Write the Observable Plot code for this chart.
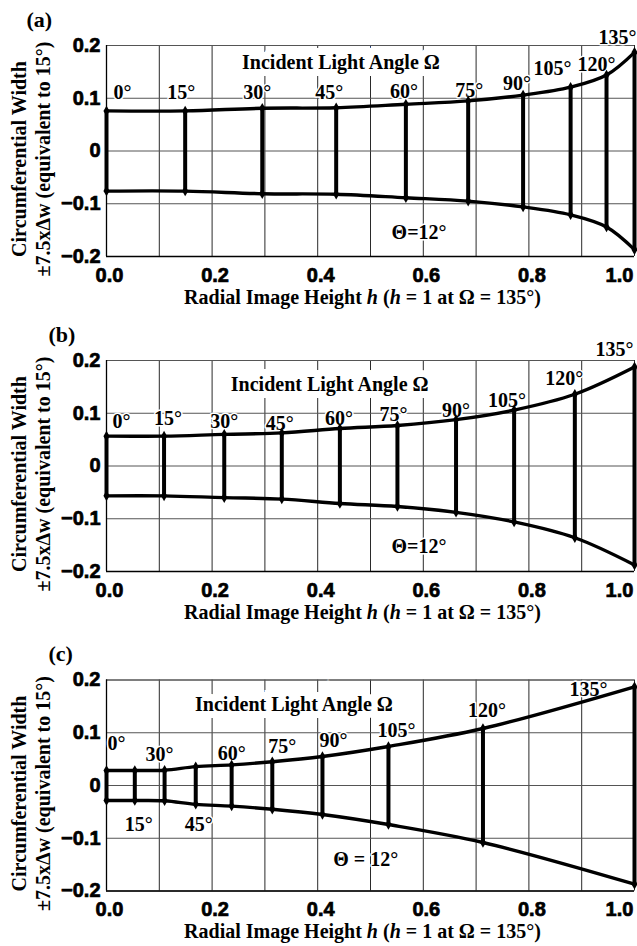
<!DOCTYPE html>
<html>
<head>
<meta charset="utf-8">
<script src="https://cdn.jsdelivr.net/npm/d3@7"></script>
<script src="https://cdn.jsdelivr.net/npm/@observablehq/plot@0.6"></script>
<style>
  body { margin: 0; background: #fff; }
  #chart svg { display: block; }
</style>
</head>
<body>
<div id="chart"></div>
<script>
// Incident light angles Ω (degrees), shared by the three lens designs
const angles = [0, 15, 30, 45, 60, 75, 90, 105, 120, 135];

// (a) radial image height h and half circumferential width for each angle
const hA = [0, 0.149, 0.295, 0.435, 0.567, 0.685, 0.789, 0.879, 0.947, 1.0];
const wA = [0.076, 0.076, 0.081, 0.082, 0.0886, 0.095, 0.106, 0.121, 0.144, 0.187];

// (b)
const hB = [0, 0.109, 0.223, 0.332, 0.442, 0.551, 0.662, 0.772, 0.887, 1.0];
const wB = [0.0566, 0.0566, 0.060, 0.0627, 0.071, 0.0767, 0.0878, 0.106, 0.136, 0.1876];

// (c)
const hC = [0, 0.0536, 0.110, 0.169, 0.237, 0.314, 0.409, 0.534, 0.713, 1.0];
const wC = [0.0284, 0.0284, 0.029, 0.0357, 0.039, 0.045, 0.055, 0.074, 0.108, 0.187];

// Axis ticks and labels
const xTicks = [0, 0.2, 0.4, 0.6, 0.8, 1.0];
const xTickLabels = ["0.0", "0.2", "0.4", "0.6", "0.8", "1.0"];
const xGrid = [0, 0.1, 0.2, 0.3, 0.4, 0.5, 0.6, 0.7, 0.8, 0.9, 1.0];
const yTicks = [-0.2, -0.1, 0, 0.1, 0.2];
const yTickLabels = ["\u22120.2", "\u22120.1", "0", "0.1", "0.2"];

// Text
const panelTags = ["(a)", "(b)", "(c)"];
const TITLE = "Incident Light Angle \u03A9";
const THETA_A = "\u0398=12\u00B0";
const THETA_C = "\u0398 = 12\u00B0";
const Y_LABEL_1 = "Circumferential Width";
const Y_LABEL_2 = "\u00B17.5x\u0394w (equivalent to 15\u00B0)";
const X_LABEL = "Radial Image Height h (h = 1 at \u03A9 = 135\u00B0)";

const SERIF = "'Liberation Serif', 'Times New Roman', Times, serif";
const SANS = "'Liberation Sans', Arial, Helvetica, sans-serif";

// Layout of each panel: frame margins, annotation anchors and label offsets
const panels = [
  {
    tag: panelTags[0], h: hA, w: wA, height: 318, marginTop: 45, marginBottom: 62, tagDx: -80,
    title: [0.444, 0.156], theta: [0.592, -0.1665], thetaText: THETA_A,
    side: [1, 1, 1, 1, 1, 1, 1, 1, 1, 1],
    dx: [16, -4, -5, -7, -2, 1, -6, -18, -10, -17],
    dy: [-12, -12, -9, -9, -6, -3.5, -5, -12, -4, -8]
  },
  {
    tag: panelTags[1], h: hB, w: wB, height: 316, marginTop: 42, marginBottom: 63, tagDx: -58,
    title: [0.4227, 0.143], theta: [0.5917, -0.164], thetaText: THETA_A,
    side: [1, 1, 1, 1, 1, 1, 1, 1, 1, 1],
    dx: [15, 4, 0, -2, -1, -4, 0, -7, -10.5, -20],
    dy: [-8, -11, -6, -3, -4, -5, -3, -3, -9, -11]
  },
  {
    tag: panelTags[2], h: hC, w: wC, height: 312, marginTop: 45.5, marginBottom: 55.5, tagDx: -58,
    title: [0.355, 0.142], theta: [0.491, -0.1517], thetaText: THETA_C,
    side: [1, -1, 1, -1, 1, 1, 1, 1, 1, 1],
    dx: [10, 4, -5, 3, 0, 10, 11, 8, 4, -46],
    dy: [-21, 31, -9, 27, -5, -9, -9, -9, -12, 9]
  }
];

const serifBold = { fontFamily: SERIF, fontWeight: "bold", fill: "black" };
const tickText = { fontFamily: SANS, fontWeight: "bold", fontSize: 20, fill: "black", tickSize: 0, label: null };

function drawPanel(p) {
  const idx = d3.range(angles.length);
  const labelMarks = idx.map(i => Plot.text([i], {
    x: d => p.h[d],
    y: d => p.side[d] > 0 ? p.w[d] : -p.w[d],
    text: d => `${angles[d]}\u00B0`,
    dx: p.dx[i], dy: p.dy[i],
    lineAnchor: "bottom", fontSize: 20, ...serifBold,
    stroke: "white", strokeWidth: 3
  }));

  return Plot.plot({
    width: 637,
    height: p.height,
    marginLeft: 106,
    marginRight: 3,
    marginTop: p.marginTop,
    marginBottom: p.marginBottom,
    style: { fontFamily: SANS, fontSize: "20px", fontWeight: "bold", color: "black", background: "white" },
    x: { domain: [0, 1] },
    y: { domain: [-0.2, 0.2] },
    marks: [
      Plot.gridX(xGrid, { stroke: "#2a2a2a", strokeOpacity: 1, strokeWidth: 1 }),
      Plot.gridY(yTicks, { stroke: "#555", strokeOpacity: 1, strokeWidth: 1 }),
      // chart title inside the frame, on a white ground
      Plot.text([TITLE], {
        x: () => p.title[0], y: () => p.title[1], text: d => d,
        lineAnchor: "bottom", fontSize: 20, ...serifBold,
        stroke: "white", strokeWidth: 14, strokeLinejoin: "miter"
      }),
      Plot.ruleY([0.2], { stroke: "#555", strokeWidth: 1 }),
      Plot.ruleX([0], { stroke: "black", strokeWidth: 1.3 }),
      Plot.ruleY([-0.2], { stroke: "black", strokeWidth: 1.3 }),
      Plot.text([p.thetaText], {
        x: () => p.theta[0], y: () => p.theta[1], text: d => d,
        lineAnchor: "bottom", fontSize: 20, ...serifBold,
        stroke: "white", strokeWidth: 3
      }),
      ...labelMarks,
      // envelope of the circumferential width
      Plot.line(idx, { x: i => p.h[i], y: i => p.w[i], curve: "catmull-rom", stroke: "black", strokeWidth: 3.4 }),
      Plot.line(idx, { x: i => p.h[i], y: i => -p.w[i], curve: "catmull-rom", stroke: "black", strokeWidth: 3.4 }),
      // width at each incident angle
      Plot.ruleX(idx, { x: i => p.h[i], y1: i => -p.w[i], y2: i => p.w[i], stroke: "black", strokeWidth: 4 }),
      Plot.dot(idx, { x: i => p.h[i], y: i => p.w[i], symbol: "diamond", r: 3.2, fill: "black" }),
      Plot.dot(idx, { x: i => p.h[i], y: i => -p.w[i], symbol: "diamond", r: 3.2, fill: "black" }),
      // axes
      Plot.axisY(yTicks, { ...tickText, tickPadding: 6, tickFormat: d => yTickLabels[yTicks.indexOf(d)] }),
      Plot.axisX(xTicks.slice(0, -1), { ...tickText, tickPadding: 11, dx: 3, tickFormat: d => xTickLabels[xTicks.indexOf(d)] }),
      Plot.axisX(xTicks.slice(-1), { ...tickText, tickPadding: 11, dx: -15, tickFormat: d => xTickLabels[xTicks.indexOf(d)] }),
      // axis titles and panel tag
      Plot.text([Y_LABEL_1], {
        frameAnchor: "left", text: d => d, rotate: -90, dx: -81, dy: 8,
        textAnchor: "middle", lineAnchor: "bottom", fontSize: 20, ...serifBold
      }),
      Plot.text([Y_LABEL_2], {
        frameAnchor: "left", text: d => d, rotate: -90, dx: -57, dy: 8,
        textAnchor: "middle", lineAnchor: "bottom", fontSize: 20, ...serifBold
      }),
      Plot.text([X_LABEL], {
        frameAnchor: "bottom", text: d => d, dx: -8, dy: 47,
        textAnchor: "middle", lineAnchor: "bottom", fontSize: 20, ...serifBold
      }),
      Plot.text([p.tag], {
        frameAnchor: "top-left", text: d => d, dx: p.tagDx, dy: -19,
        textAnchor: "start", lineAnchor: "bottom", fontSize: 22, ...serifBold
      })
    ]
  });
}

// Set the variable h in italics inside the x-axis title
function italicizeH(svg) {
  d3.select(svg).selectAll("text")
    .filter(function () { return this.textContent === X_LABEL; })
    .each(function () {
      const t = d3.select(this);
      t.text(null);
      const parts = [
        ["Radial Image Height ", false], ["h", true], [" (", false],
        ["h", true], [" = 1 at \u03A9 = 135\u00B0)", false]
      ];
      for (const [s, it] of parts) {
        t.append("tspan").attr("font-style", it ? "italic" : "normal").text(s);
      }
    });
}

// Heavier strokes on the numeric tick labels
function heavyTicks(svg) {
  d3.select(svg).selectAll('g[aria-label$="tick label"] text')
    .attr("stroke", "black").attr("stroke-width", 0.7);
}

const root = document.getElementById("chart");
for (const p of panels) {
  const svg = drawPanel(p);
  italicizeH(svg);
  heavyTicks(svg);
  root.appendChild(svg);
}
</script>
</body>
</html>
